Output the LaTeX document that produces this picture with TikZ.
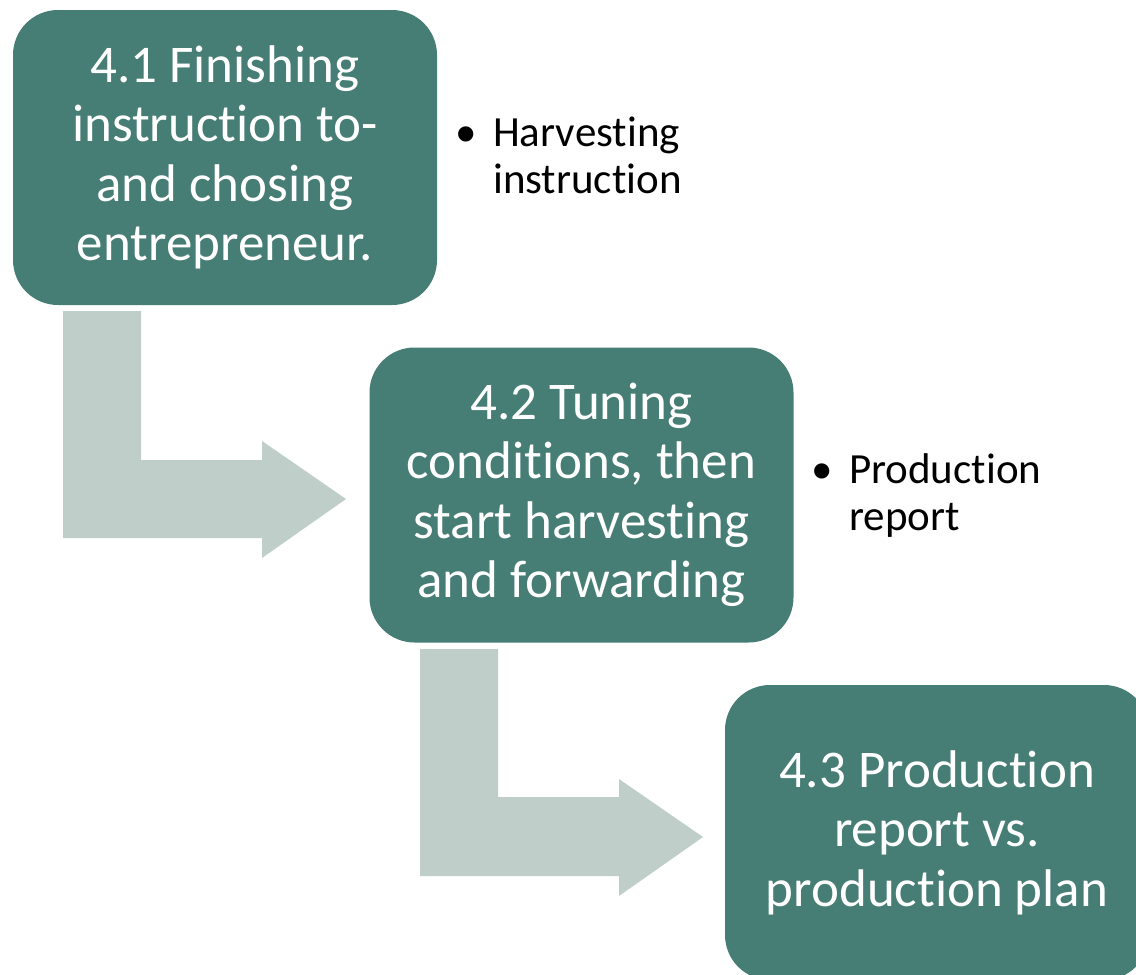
\documentclass[tikz,border=0pt]{standalone}
\usepackage{fontspec}
\setmainfont{Carlito}[Ligatures=NoCommon]
\newcommand{\nti}{t\kern0pt i}
\definecolor{boxgreen}{RGB}{70,125,116}
\definecolor{arrowgrey}{RGB}{192,206,202}
\begin{document}
\begin{tikzpicture}[x=1pt,y=-1pt,
  stepbox/.style={fill=boxgreen, rounded corners=45pt, minimum width=424pt, minimum height=295pt,
    inner sep=0pt, text=white, align=center, font=\fontsize{53}{59.5}\selectfont},
  bentarrow/.style={fill=arrowgrey, draw=none},
  bullettext/.style={anchor=base west, inner sep=0pt, font=\fontsize{43}{47}\selectfont},
  bulletdot/.style={anchor=base, inner sep=0pt, font=\fontsize{43}{47}\selectfont}]
\useasboundingbox (0,0) rectangle (1136,975);
\clip (0,0) rectangle (1136,975);
% arrows
\path[bentarrow] (63,311) -- (141,311) -- (141,460) -- (262,460) -- (262,441) -- (346,499)
  -- (262,558) -- (262,538) -- (63,538) -- cycle;
\path[bentarrow] (420,649) -- (498,649) -- (498,797) -- (619,797) -- (619,779) -- (703,837)
  -- (619,896) -- (619,876) -- (420,876) -- cycle;
% boxes
\node[stepbox] (b1) at (225,157.5) {4.1 Finishing\\instruc\nti on to-\\and chosing\\entrepreneur.};
\node[stepbox] (b2) at (581.5,495) {4.2 Tuning\\condi\nti ons, then\\start harvesting\\and forwarding};
\node[stepbox] (b3) at (937,832.5) {4.3 Produc\nti on\\report vs.\\produc\nti on plan};
% bullet notes
\node[bulletdot] (d1) at (466,146) {•};
\node[bullettext] (t1) at (493,146) {\vtop{\hbox{Harvesting}\hbox{instruc\nti on}}};
\node[bulletdot] (d2) at (822,483) {•};
\node[bullettext] (t2) at (849,483) {\vtop{\hbox{Produc\nti on}\hbox{report}}};
\end{tikzpicture}
\end{document}
